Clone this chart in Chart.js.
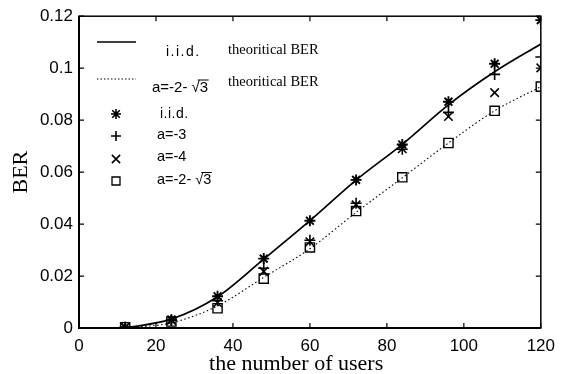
<!DOCTYPE html>
<html>
<head>
<meta charset="utf-8">
<script src="https://cdn.jsdelivr.net/npm/chart.js@4.4.1/dist/chart.umd.min.js"></script>
<style>
  html, body { margin: 0; padding: 0; background: #fff; }
  #wrap { width: 563px; height: 374px; }
</style>
</head>
<body>
<div id="wrap"><canvas id="ber"></canvas></div>
<script>
// number of users
const users = [12, 24, 36, 48, 60, 72, 84, 96, 108, 120];
// theoretical curves
const theoryIid = [0, 0.0034, 0.012, 0.0265, 0.0413, 0.0569, 0.0707, 0.0859, 0.0986, 0.1093];
const theoryA = [0, 0.002, 0.0085, 0.0195, 0.0305, 0.0445, 0.0578, 0.0712, 0.0836, 0.0929];
// simulated points
const simIid = [0.0003, 0.0032, 0.0122, 0.0267, 0.0413, 0.057, 0.0706, 0.0871, 0.1017, 0.1185];
const simA3 = [0.0003, 0.003, 0.0105, 0.023, 0.0338, 0.048, 0.0688, 0.083, 0.0976, 0.1043];
const simA4 = [0.0003, 0.003, 0.0097, 0.0218, 0.0332, 0.0474, 0.069, 0.0814, 0.0906, 0.1001];
const simA23 = [0.0003, 0.0025, 0.0076, 0.019, 0.031, 0.045, 0.058, 0.0712, 0.0836, 0.0929];
const xTicks = [0, 20, 40, 60, 80, 100, 120];
const yTicks = [0, 0.02, 0.04, 0.06, 0.08, 0.1, 0.12];

const sansFont = '"Liberation Sans", Arial, sans-serif';
const serifFont = '"Liberation Serif", "Times New Roman", serif';

const pts = ys => users.map((u, i) => ({x: u, y: ys[i]}));

// inward ticks + box frame, matlab style
const frame = {
  id: 'frame',
  afterDraw(chart) {
    const {ctx, chartArea: a, scales} = chart;
    ctx.save();
    ctx.strokeStyle = '#000';
    ctx.lineWidth = 1.2;
    xTicks.forEach(v => {
      const px = scales.x.getPixelForValue(v);
      ctx.beginPath();
      ctx.moveTo(px, a.bottom); ctx.lineTo(px, a.bottom - 5);
      ctx.moveTo(px, a.top); ctx.lineTo(px, a.top + 5);
      ctx.stroke();
    });
    yTicks.forEach(v => {
      const py = scales.y.getPixelForValue(v);
      ctx.beginPath();
      ctx.moveTo(a.left, py); ctx.lineTo(a.left + 5, py);
      ctx.moveTo(a.right, py); ctx.lineTo(a.right - 5, py);
      ctx.stroke();
    });
    ctx.lineWidth = 1.5;
    ctx.strokeRect(a.left, a.top, a.right - a.left, a.bottom - a.top);
    ctx.lineWidth = 2;
    ctx.beginPath();
    ctx.moveTo(a.left, a.top); ctx.lineTo(a.left, a.bottom); ctx.lineTo(a.right, a.bottom);
    ctx.stroke();
    ctx.restore();
  }
};

function sqrtLabel(ctx, text, x, y, barY) {
  // text ends with "√3", draw the bar over the 3
  ctx.fillText(text, x, y);
  const full = ctx.measureText(text).width;
  const three = ctx.measureText('3').width;
  const root = ctx.measureText('√').width;
  ctx.beginPath();
  ctx.lineWidth = 1;
  ctx.moveTo(x + full - three - root * 0.25, y - barY);
  ctx.lineTo(x + full + 0.5, y - barY);
  ctx.stroke();
}

function marker(ctx, kind, x, y, r) {
  ctx.beginPath();
  if (kind === 'star' || kind === 'cross') {
    ctx.moveTo(x - r, y); ctx.lineTo(x + r, y);
    ctx.moveTo(x, y - r); ctx.lineTo(x, y + r);
  }
  if (kind === 'star' || kind === 'crossRot') {
    const d = r * 0.75;
    ctx.moveTo(x - d, y - d); ctx.lineTo(x + d, y + d);
    ctx.moveTo(x - d, y + d); ctx.lineTo(x + d, y - d);
  }
  if (kind === 'rect') {
    ctx.rect(x - r, y - r, 2 * r, 2 * r);
  }
  ctx.stroke();
}

const legendBox = {
  id: 'legendBox',
  afterDraw(chart) {
    const ctx = chart.ctx;
    ctx.save();
    ctx.strokeStyle = '#000';
    ctx.fillStyle = '#000';
    ctx.textBaseline = 'alphabetic';
    // line samples
    ctx.lineWidth = 1.4;
    ctx.beginPath(); ctx.moveTo(97, 42); ctx.lineTo(136, 42); ctx.stroke();
    ctx.lineWidth = 1;
    ctx.setLineDash([1.5, 2]);
    ctx.beginPath(); ctx.moveTo(97, 79); ctx.lineTo(136, 79); ctx.stroke();
    ctx.setLineDash([]);

    ctx.font = '14px ' + sansFont;
    ctx.letterSpacing = '1.5px';
    ctx.fillText('i.i.d.', 166, 56);
    ctx.letterSpacing = '0.5px';
    ctx.fillText('i.i.d.', 160, 118);
    ctx.letterSpacing = '0px';
    ctx.font = '15px ' + sansFont;
    sqrtLabel(ctx, 'a=-2- √3', 152, 92, 12);
    ctx.font = '14.5px ' + serifFont;
    ctx.fillText('theoritical BER', 228, 54);
    ctx.fillText('theoritical BER', 228, 86);

    // marker entries
    ctx.lineWidth = 1.6;
    marker(ctx, 'star', 116, 114, 5);
    marker(ctx, 'cross', 116, 136, 5);
    marker(ctx, 'crossRot', 116, 159, 5.5);
    ctx.lineWidth = 1.3;
    marker(ctx, 'rect', 116, 181, 4);
    ctx.font = '14.5px ' + sansFont;
    ctx.fillText('a=-3', 157, 139);
    ctx.fillText('a=-4', 157, 161);
    sqrtLabel(ctx, 'a=-2- √3', 157, 184, 11.5);
    ctx.restore();
  }
};

new Chart(document.getElementById('ber'), {
  type: 'line',
  data: {
    datasets: [
      {
        label: 'i.i.d. theoritical BER',
        data: pts(theoryIid),
        borderColor: '#000',
        borderWidth: 1.7,
        pointRadius: 0,
        cubicInterpolationMode: 'monotone'
      },
      {
        label: 'a=-2- √3 theoritical BER',
        data: pts(theoryA),
        borderColor: '#000',
        borderWidth: 1.1,
        borderDash: [1.5, 2.5],
        pointRadius: 0,
        cubicInterpolationMode: 'monotone'
      },
      {
        label: 'i.i.d.',
        data: pts(simIid),
        showLine: false,
        pointStyle: 'star',
        pointRadius: 5.5,
        pointBorderWidth: 1.9,
        borderColor: '#000',
        backgroundColor: '#000'
      },
      {
        label: 'a=-3',
        data: pts(simA3),
        showLine: false,
        pointStyle: 'cross',
        pointRadius: 5.5,
        pointBorderWidth: 1.6,
        borderColor: '#000'
      },
      {
        label: 'a=-4',
        data: pts(simA4),
        showLine: false,
        pointStyle: 'crossRot',
        pointRadius: 6,
        pointBorderWidth: 1.6,
        borderColor: '#000'
      },
      {
        label: 'a=-2- √3',
        data: pts(simA23),
        showLine: false,
        pointStyle: 'rect',
        pointRadius: 6.5,
        pointBorderWidth: 1.4,
        borderColor: '#000',
        backgroundColor: '#fff'
      }
    ]
  },
  options: {
    responsive: true,
    maintainAspectRatio: false,
    animation: false,
    layout: { padding: { left: 0, top: 14, right: 16, bottom: 0 } },
    plugins: { legend: { display: false }, tooltip: { enabled: false } },
    scales: {
      x: {
        type: 'linear',
        min: 0,
        max: 120,
        afterFit: s => { s.height = 46; },
        afterBuildTicks: s => { s.ticks = xTicks.map(v => ({value: v})); },
        grid: { display: false, drawTicks: false },
        border: { display: false },
        ticks: { color: '#000', padding: 8, maxRotation: 0, font: { family: sansFont, size: 17 } },
        title: {
          display: true,
          // trailing spaces nudge the centred title a little left, as in the original
          text: 'the number of users     ',
          color: '#000',
          padding: { top: 0, bottom: -3 },
          font: { family: serifFont, size: 22 }
        }
      },
      y: {
        min: 0,
        max: 0.12,
        afterFit: s => { s.width = 79; },
        afterBuildTicks: s => { s.ticks = yTicks.map(v => ({value: v})); },
        grid: { display: false, drawTicks: false },
        border: { display: false },
        ticks: {
          color: '#000',
          padding: 6,
          font: { family: sansFont, size: 17 },
          callback: v => String(+v.toFixed(2))
        },
        title: {
          display: true,
          text: 'BER',
          color: '#000',
          padding: { top: 8, bottom: 0 },
          font: { family: serifFont, size: 22 }
        }
      }
    }
  },
  plugins: [frame, legendBox]
});
</script>
</body>
</html>
